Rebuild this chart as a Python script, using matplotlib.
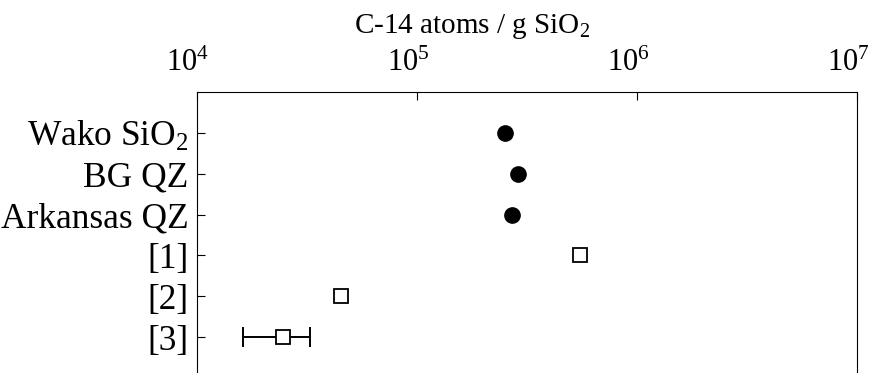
import matplotlib

matplotlib.use("Agg")
import matplotlib.pyplot as plt
import matplotlib.transforms as mtransforms
from matplotlib.ticker import LogLocator, NullLocator

plt.rcParams["font.family"] = ["Liberation Serif", "DejaVu Serif"]
plt.rcParams["mathtext.fontset"] = "custom"
plt.rcParams["mathtext.rm"] = "Liberation Serif"
plt.rcParams["mathtext.it"] = "Liberation Serif:italic"

# samples measured here (filled) and literature values (open)
samples = ["Wako SiO$_2$", "BG QZ", "Arkansas QZ"]
sample_vals = [2.5e5, 2.88e5, 2.7e5]

refs = ["[1]", "[2]", "[3]"]
ref_vals = [5.5e5, 4.5e4, 2.45e4]
# only [3] carries an error bar
ref3_low = 1.62e4
ref3_high = 3.26e4

labels = samples + refs
rows = list(range(len(labels)))

fig = plt.figure(figsize=(8.7, 3.73), dpi=100)
# axes runs off the bottom of the picture, as in the cropped original
ax = fig.add_axes([197 / 870, -5 / 373, 660 / 870, 286 / 373])

ax.errorbar([ref_vals[2]], [rows[5]],
            xerr=[[ref_vals[2] - ref3_low], [ref3_high - ref_vals[2]]],
            fmt="none", ecolor="black", capsize=7, elinewidth=1.4, capthick=1.4)
ax.plot(sample_vals, rows[:3], "o", color="black", markersize=11, linestyle="none")
ax.plot(ref_vals, rows[3:], "s", mfc="white", mec="black", markersize=10,
        mew=1.3, linestyle="none", zorder=3)

ax.set_xscale("log")
ax.set_xlim(1e4, 1e7)
ax.set_ylim(len(labels) - 0.0, -1.0)
ax.xaxis.set_major_locator(LogLocator(base=10, numticks=10))
ax.xaxis.set_minor_locator(NullLocator())
ax.xaxis.tick_top()
ax.xaxis.set_label_position("top")
ax.set_xlabel("C-14 atoms / g SiO$_2$", fontsize=21)
ax.xaxis.set_label_coords(0.417, 1.205)

ax.set_yticks(rows)
ax.set_yticklabels(labels)
ax.tick_params(axis="both", direction="in", length=6, width=0.8)
ax.tick_params(axis="x", labelsize=22, pad=10)
ax.tick_params(axis="y", labelsize=25.5, pad=6)

# the power-of-ten labels sit a little left of their ticks
shift = mtransforms.ScaledTranslation(-9 / 100, 0, fig.dpi_scale_trans)
for lab in ax.get_xticklabels():
    lab.set_transform(lab.get_transform() + shift)

for s in ax.spines.values():
    s.set_linewidth(0.8)

fig.savefig("out.png", dpi=100)
